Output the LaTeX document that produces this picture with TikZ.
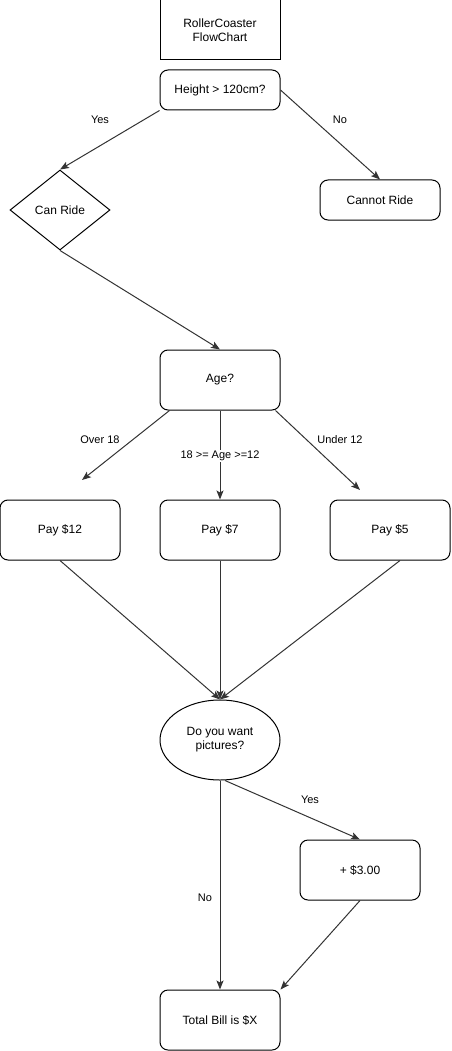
\documentclass[tikz,border=0pt]{standalone}
\usepackage{fontspec}
\setmainfont{Liberation Sans}
\usetikzlibrary{shapes.geometric,arrows.meta,calc}

\begin{document}
\begin{tikzpicture}[x=1pt,y=-1pt,
  box/.style={rectangle, draw, line width=1pt, rounded corners=8pt, minimum width=120pt, inner sep=0pt, align=center, font=\fontsize{12}{14}\selectfont},
  titlebox/.style={box, rounded corners=0pt, minimum height=60pt},
  decision/.style={diamond, draw, line width=1pt, minimum width=100pt, minimum height=80pt, inner sep=0pt, font=\fontsize{12}{14}\selectfont},
  question/.style={ellipse, draw, line width=1pt, minimum width=120pt, minimum height=80pt, inner sep=0pt, align=center, font=\fontsize{12}{14}\selectfont},
  flow/.style={draw=black!80, line width=1pt, -{Stealth[length=9pt,width=7pt,inset=2pt]}},
  lbl/.style={font=\fontsize{11}{13}\selectfont, inner sep=1pt}]
  \useasboundingbox (0,0) rectangle (451,1051);
  % nodes
  \node[titlebox] (title) at (220,30) {RollerCoaster\\FlowChart};
  \node[box, minimum height=40pt] (height) at (220,90) {Height > 120cm?};
  \node[decision] (ride) at (60,210) {Can Ride};
  \node[box, minimum height=40pt] (noride) at (380,200) {Cannot Ride};
  \node[box, minimum height=60pt] (age) at (220,380) {Age?};
  \node[box, minimum height=60pt] (pay12) at (60,530) {Pay \$12};
  \node[box, minimum height=60pt] (pay7) at (220,530) {Pay \$7};
  \node[box, minimum height=60pt] (pay5) at (390,530) {Pay \$5};
  \node[question] (pics) at (220,740) {Do you want\\pictures?};
  \node[box, minimum height=60pt] (extra) at (360,870) {+ \$3.00};
  \node[box, minimum height=60pt] (total) at (220,1020) {Total Bill is \$X};
  \coordinate (over) at (82,480);
  \coordinate (under) at (360,490);
  % connectors
  \draw[flow] (height.south west) -- (ride.north);
  \draw[flow] (height.east) -- (noride.north);
  \draw[flow] (ride.south) -- (age.north);
  \draw[flow] ($(age.south west)+(10,0)$) -- (over);
  \draw[flow] (age.south) -- (pay7.north);
  \draw[flow] ($(age.south east)+(-5,0)$) -- (under);
  \draw[flow] (pay12.south) -- (pics.north);
  \draw[flow] (pay7.south) -- (pics.north);
  \draw[flow] ($(pay5.south)+(10,0)$) -- (pics.north);
  \draw[flow] (pics.south) -- (total.north);
  \draw[flow] ($(pics.south)+(5,0)$) -- (extra.north);
  \draw[flow] (extra.south) -- (total.north east);
  % labels
  \node[lbl] (yes1) at (100,120) {Yes};
  \node[lbl] (no1) at (340,120) {No};
  \node[lbl] (lover) at (100,440) {Over 18};
  \node[lbl, fill=white] (lmid) at (220,456) {18 >= Age >=12};
  \node[lbl] (lunder) at (340,440) {Under 12};
  \node[lbl] (yes2) at (310,800) {Yes};
  \node[lbl] (no2) at (205,898) {No};
\end{tikzpicture}
\end{document}
